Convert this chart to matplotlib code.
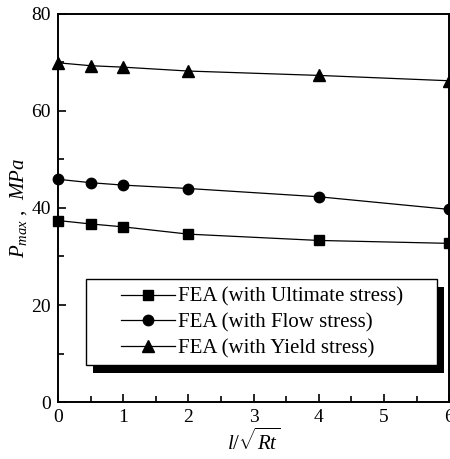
import matplotlib
matplotlib.use("Agg")
import matplotlib.pyplot as plt
from matplotlib.ticker import MultipleLocator
from matplotlib.patches import Rectangle

x = [0, 0.5, 1, 2, 4, 6]
ultimate = [37.4, 36.7, 36.1, 34.6, 33.3, 32.7]
flow = [45.9, 45.2, 44.7, 44.0, 42.3, 39.7]
yield_ = [69.9, 69.3, 69.0, 68.2, 67.3, 66.2]
labels = ["FEA (with Ultimate stress)", "FEA (with Flow stress)", "FEA (with Yield stress)"]

plt.rcParams['font.family'] = ['Liberation Serif', 'DejaVu Serif']
plt.rcParams['mathtext.fontset'] = 'custom'
plt.rcParams['mathtext.it'] = 'Liberation Serif:italic'
plt.rcParams['mathtext.rm'] = 'Liberation Serif'

fig = plt.figure(figsize=(4.5, 4.59), dpi=100)
ax = fig.add_axes([0.129, 0.124, 0.869, 0.846])

ax.plot(x, ultimate, '-s', color='black', lw=0.9, ms=7, label=labels[0], clip_on=False, zorder=3)
ax.plot(x, flow, '-o', color='black', lw=0.9, ms=7.5, label=labels[1], clip_on=False, zorder=3)
ax.plot(x, yield_, '-^', color='black', lw=0.9, ms=8, label=labels[2], clip_on=False, zorder=3)

ax.set_xlim(0, 6)
ax.set_ylim(0, 80)
ax.xaxis.set_major_locator(MultipleLocator(1))
ax.xaxis.set_minor_locator(MultipleLocator(0.5))
ax.yaxis.set_major_locator(MultipleLocator(20))
ax.yaxis.set_minor_locator(MultipleLocator(10))
ax.tick_params(which='both', direction='in', top=False, right=False, labelsize=14, width=1.2)
ax.tick_params(which='major', length=6, pad=5)
ax.tick_params(which='minor', length=4)
for s in ax.spines.values():
    s.set_linewidth(1.4)

ax.set_xlabel(r'$l/\sqrt{Rt}$', fontsize=15, labelpad=2)
ax.set_ylabel(r'$P_{max}$ ,  $MPa$', fontsize=15, labelpad=2)

# legend box with solid shadow
shadow = Rectangle((0.0895, 0.0747), 0.8975, 0.2213, transform=ax.transAxes,
                   facecolor='black', edgecolor='none', zorder=4)
frame = Rectangle((0.0716, 0.0954), 0.8974, 0.2216, transform=ax.transAxes,
                  facecolor='white', edgecolor='black', lw=1.0, zorder=5)
ax.add_patch(shadow)
ax.add_patch(frame)

leg = ax.legend(loc='center left', bbox_to_anchor=(0.161, 0.204), frameon=False,
                fontsize=15, handlelength=2.6, borderpad=0, labelspacing=0.3,
                handletextpad=0.15, borderaxespad=0)
leg.set_zorder(6)

fig.savefig('out.png', dpi=100)
